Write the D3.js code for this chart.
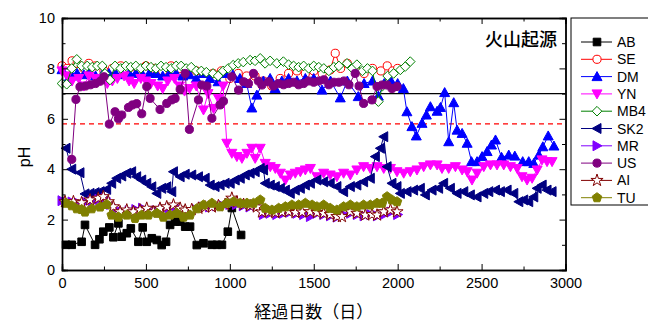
<!DOCTYPE html>
<html>
<head>
<meta charset="utf-8">
<script src="https://cdn.jsdelivr.net/npm/d3@7"></script>
<style>
  body { margin: 0; background: #fff; }
  svg { display: block; font-family: "Liberation Sans", Arial, sans-serif; }
  .jp { font-family: "Noto Sans CJK JP", sans-serif; }
</style>
</head>
<body>
<svg id="chart" width="648" height="323"></svg>
<script>
// series, [day, pH]
const AB = [[24,1.0],[58,1.0],[117,1.12],[137,1.79],[197,1.0],[223,1.22],[246,1.52],[282,1.69],[306,1.3],[336,1.85],[356,1.32],[386,1.46],[410,1.65],[455,1.12],[481,1.69],[505,1.12],[535,1.26],[565,1.19],[594,0.99],[620,1.12],[644,1.79],[674,1.92],[704,1.92],[734,1.72],[763,1.72],[803,0.99],[843,1.06],[893,1.0],[923,1.0],[953,1.0],[988,1.52],[1012,2.46],[1067,1.39]];

const SE = [[0,8.1],[30,8.0],[60,8.3],[90,8.2],[130,8.0],[160,8.2],[200,8.1],[250,7.9],[300,8.0],[350,8.1],[400,8.0],[450,8.0],[500,8.1],[550,8.0],[600,7.9],[650,8.1],[700,8.0],[750,7.9],[800,7.9],[850,7.8],[900,7.8],[950,7.9],[1000,7.6],[1050,7.8],[1100,7.7],[1150,7.7],[1200,7.5],[1250,7.3],[1300,7.6],[1350,7.8],[1400,7.9],[1450,7.8],[1500,7.9],[1550,7.8],[1598,7.94],[1628,8.6],[1660,8.0],[1700,8.2],[1750,7.9],[1800,7.8],[1850,8.0],[1900,7.9],[1938,8.1],[1970,7.9],[2000,8.0]];

const DM = [[0,7.95],[30,7.5],[60,7.7],[90,7.8],[130,7.75],[160,7.8],[200,7.7],[240,7.75],[280,7.8],[320,7.8],[360,7.75],[400,7.8],[440,7.8],[480,7.75],[520,7.8],[560,7.8],[600,7.7],[640,7.8],[680,7.8],[720,7.7],[760,7.75],[800,7.6],[840,7.8],[880,7.6],[930,7.47],[970,7.8],[1018,7.74],[1060,7.6],[1100,7.4],[1131,6.43],[1161,6.94],[1200,7.5],[1240,7.6],[1270,7.2],[1310,7.5],[1350,7.6],[1400,7.5],[1450,7.6],[1500,7.6],[1549,7.14],[1600,7.5],[1658,6.83],[1700,7.5],[1765,6.88],[1800,7.4],[1850,7.5],[1885,6.9],[1920,7.4],[1960,7.5],[2000,7.4],[2034,7.2],[2055,6.28],[2085,5.69],[2111,5.32],[2145,5.82],[2171,6.15],[2195,6.48],[2235,6.3],[2255,6.45],[2280,7.04],[2304,5.09],[2334,6.64],[2354,5.55],[2384,5.42],[2414,5.03],[2440,4.3],[2473,4.3],[2503,4.5],[2533,4.7],[2559,4.96],[2583,5.16],[2619,4.47],[2662,4.56],[2698,4.52],[2745,4.3],[2781,4.3],[2811,4.23],[2841,4.56],[2865,4.89],[2897,5.32],[2931,4.92]];

const YN = [[0,7.9],[30,7.7],[60,7.5],[100,7.6],[130,7.3],[160,7.7],[200,7.6],[230,7.5],[270,7.4],[300,7.5],[330,7.6],[370,7.7],[400,7.5],[430,7.4],[470,7.6],[500,7.5],[530,7.4],[570,7.3],[600,7.2],[630,7.5],[670,7.6],[700,7.3],[730,7.1],[760,7.2],[800,7.3],[843,6.35],[870,7.0],[903,6.41],[932,6.81],[960,7.3],[982,5.03],[1012,4.63],[1042,4.5],[1072,4.43],[1102,4.63],[1131,4.83],[1151,4.43],[1181,4.83],[1211,4.23],[1241,4.1],[1271,4.03],[1301,3.84],[1331,3.57],[1360,3.77],[1390,3.84],[1420,3.9],[1450,3.97],[1480,4.03],[1519,3.7],[1559,3.84],[1598,3.77],[1638,3.7],[1678,3.84],[1718,3.77],[1757,3.97],[1797,4.1],[1837,4.03],[1877,4.1],[1917,4.03],[1957,4.03],[1996,3.9],[2036,3.84],[2075,3.9],[2115,3.97],[2155,4.1],[2195,4.17],[2235,4.17],[2264,4.03],[2304,4.03],[2344,4.1],[2384,3.97],[2414,3.9],[2443,3.57],[2473,3.84],[2513,4.1],[2553,4.17],[2592,4.17],[2632,4.17],[2672,4.1],[2712,4.03],[2741,3.7],[2771,3.57],[2801,3.64],[2831,3.97],[2860,4.37],[2890,4.3],[2920,4.3]];

const MB4 = [[0,7.4],[28,7.37],[58,8.0],[88,8.36],[117,8.1],[150,8.1],[180,8.05],[210,8.1],[240,8.1],[256,7.8],[286,7.54],[316,8.1],[350,8.0],[380,8.1],[410,8.05],[440,8.1],[470,8.0],[500,8.1],[530,8.05],[560,8.0],[590,8.1],[620,8.05],[650,8.0],[680,8.1],[710,8.1],[740,8.0],[770,8.05],[800,7.9],[830,7.9],[860,7.85],[900,7.8],[930,7.7],[960,7.9],[990,8.0],[1020,8.13],[1050,8.2],[1080,8.25],[1121,8.33],[1150,8.3],[1181,8.4],[1210,8.2],[1240,8.3],[1280,8.2],[1319,8.27],[1350,8.15],[1380,8.1],[1410,8.05],[1440,8.1],[1470,8.0],[1500,8.1],[1530,8.05],[1560,8.0],[1590,7.9],[1620,8.05],[1650,8.1],[1698,8.2],[1730,8.0],[1757,8.15],[1790,7.9],[1820,8.0],[1850,7.9],[1885,6.68],[1910,7.3],[1940,7.7],[1976,7.8],[2016,7.94],[2045,8.07],[2075,8.27]];

const SK2 = [[24,4.83],[58,4.0],[107,3.86],[137,3.02],[167,3.04],[197,3.07],[227,3.11],[266,3.2],[296,3.44],[326,3.64],[356,3.73],[386,3.84],[415,3.9],[445,3.7],[475,3.57],[505,3.44],[535,3.3],[565,3.04],[594,3.24],[624,3.3],[654,3.11],[664,3.9],[704,3.7],[734,3.8],[773,3.77],[813,3.7],[853,3.64],[883,3.37],[912,3.31],[942,3.37],[972,3.44],[1002,3.44],[1032,3.57],[1062,3.64],[1092,3.77],[1121,3.84],[1151,3.9],[1181,4.03],[1201,3.97],[1211,3.44],[1241,3.37],[1271,3.31],[1301,3.24],[1331,3.17],[1360,3.04],[1390,3.17],[1420,3.24],[1450,3.37],[1480,3.44],[1519,3.57],[1559,3.5],[1598,3.44],[1638,3.31],[1678,3.11],[1718,3.31],[1757,3.37],[1797,3.5],[1837,3.64],[1867,4.5],[1897,4.83],[1917,5.29],[1937,4.1],[1966,3.44],[1996,3.31],[2016,3.04],[2056,3.11],[2095,3.17],[2135,3.24],[2165,2.98],[2205,3.17],[2244,3.24],[2274,3.44],[2314,3.24],[2354,3.04],[2394,3.11],[2433,2.98],[2473,2.9],[2513,3.04],[2543,3.11],[2583,3.17],[2612,3.11],[2652,3.17],[2692,3.04],[2722,2.71],[2751,2.78],[2781,2.71],[2811,2.9],[2831,3.24],[2861,3.37],[2890,3.17],[2920,3.11]];

const MR = [[0,2.75],[30,2.7],[60,2.7],[100,2.65],[140,2.7],[180,2.75],[220,2.8],[260,2.85],[290,2.6],[320,2.4],[360,2.3],[400,2.35],[440,2.4],[480,2.45],[520,2.35],[560,2.35],[600,2.4],[640,2.45],[680,2.5],[720,2.4],[760,2.3],[800,2.4],[840,2.5],[880,2.5],[920,2.55],[960,2.55],[1000,2.6],[1040,2.6],[1080,2.55],[1120,2.5],[1160,2.55],[1200,2.2],[1240,2.25],[1280,2.2],[1320,2.25],[1360,2.3],[1400,2.25],[1440,2.2],[1480,2.12],[1520,2.25],[1560,2.2],[1600,2.15],[1640,2.1],[1680,2.2],[1720,2.25],[1760,2.2],[1800,2.15],[1840,2.2],[1880,2.15],[1920,2.2],[1960,2.3],[2000,2.2]];

const US = [[58,4.39],[83,6.77],[107,7.27],[140,7.3],[170,7.35],[200,7.4],[230,7.5],[250,7.67],[282,5.79],[316,6.28],[336,6.0],[356,6.15],[396,6.45],[420,6.55],[445,6.6],[475,6.2],[505,7.28],[525,6.81],[584,6.37],[624,6.61],[654,6.75],[674,6.81],[704,7.17],[734,7.8],[759,5.58],[813,6.75],[833,7.34],[863,7.3],[893,6.02],[942,6.55],[962,6.7],[1012,7.67],[1052,7.14],[1082,7.47],[1111,7.4],[1141,7.8],[1170,7.5],[1191,7.34],[1231,7.47],[1260,7.3],[1290,7.4],[1320,7.35],[1350,7.4],[1380,7.45],[1410,7.35],[1440,7.4],[1470,7.5],[1500,7.45],[1530,7.5],[1560,7.55],[1590,7.35],[1620,7.45],[1650,7.45],[1680,7.5],[1710,7.35],[1747,7.8],[1770,7.3],[1797,6.61],[1847,6.75],[1877,7.28],[1907,7.34],[1937,7.34],[1966,7.2],[1996,7.28]];

const AI = [[18,2.71],[68,2.71],[117,2.67],[167,2.78],[216,2.85],[246,2.91],[276,2.71],[306,2.51],[346,2.31],[386,2.38],[425,2.31],[465,2.38],[505,2.45],[544,2.31],[584,2.45],[624,2.51],[664,2.58],[704,2.45],[734,2.38],[773,2.4],[813,2.45],[853,2.5],[893,2.5],[932,2.55],[972,2.6],[1012,2.85],[1042,2.7],[1082,2.6],[1121,2.55],[1161,2.5],[1191,2.3],[1231,2.3],[1271,2.28],[1311,2.3],[1351,2.32],[1391,2.28],[1431,2.3],[1479,2.31],[1519,2.28],[1559,2.25],[1598,2.2],[1638,2.12],[1668,2.12],[1718,2.31],[1757,2.25],[1807,2.18],[1847,2.2],[1877,2.18],[1917,2.31],[1957,2.38],[1996,2.31]];

const TU = [[24,2.65],[58,2.55],[88,2.43],[117,2.4],[137,2.3],[177,2.43],[227,2.5],[266,2.6],[296,2.18],[336,2.1],[386,2.18],[435,2.05],[475,2.18],[515,2.18],[565,2.25],[604,2.1],[644,2.18],[684,2.25],[724,2.1],[763,2.18],[803,2.43],[843,2.58],[893,2.65],[942,2.51],[982,2.65],[1022,2.71],[1062,2.65],[1102,2.65],[1141,2.65],[1181,2.78],[1211,2.45],[1251,2.38],[1291,2.45],[1331,2.51],[1370,2.58],[1410,2.58],[1450,2.65],[1490,2.58],[1519,2.51],[1559,2.58],[1598,2.45],[1638,2.38],[1678,2.51],[1718,2.58],[1757,2.51],[1797,2.58],[1837,2.58],[1877,2.65],[1907,2.65],[1937,2.91],[1966,2.78],[1996,2.71]];

const seriesNames = ["AB","SE","DM","YN","MB4","SK2","MR","US","AI","TU"];
const seriesData = [AB, SE, DM, YN, MB4, SK2, MR, US, AI, TU];
const xTicks = [0, 500, 1000, 1500, 2000, 2500, 3000];
const yTicks = [0, 2, 4, 6, 8, 10];
const refLines = [7, 5.8];

const colors = ["#000000","#ff0000","#0000ff","#ff00ff","#008000","#000080","#8000ff","#800080","#800000","#808000"];
const shapes = ["square","circle","triUp","triDown","diamond","triLeft","triRight","circle","star","pentagon"];
const hollow = [false,true,false,false,true,false,false,false,true,false];

const svg = d3.select("#chart");
const L = 62, R = 565.5, T = 18, B = 270;

const x = d3.scaleLinear().domain([0, 3000]).range([L, R]);
const y = d3.scaleLinear().domain([0, 10]).range([B, T]);

function shapePath(s) {
  if (s == "square") return "M-3.8,-3.8H3.8V3.8H-3.8Z";
  if (s == "circle") return d3.symbol(d3.symbolCircle, 52)();
  if (s == "diamond") return "M0,-4.8L4.8,0L0,4.8L-4.8,0Z";
  if (s == "star") return d3.symbol(d3.symbolStar, 46)();
  if (s == "pentagon") {
    const p = d3.range(5).map(i => {
      const a = -Math.PI / 2 + i * 2 * Math.PI / 5;
      return [5 * Math.cos(a), 5 * Math.sin(a)];
    });
    return "M" + p.join("L") + "Z";
  }
  return "M0,-5L5,4L-5,4Z"; // triangles, rotated below
}
const rot = { triUp: 0, triDown: 180, triLeft: -90, triRight: 90 };

// reference lines
svg.append("line")
  .attr("x1", L).attr("x2", R).attr("y1", y(refLines[0])).attr("y2", y(refLines[0]))
  .attr("stroke", "#000").attr("stroke-width", 1.2);
svg.append("line")
  .attr("x1", L).attr("x2", R).attr("y1", y(refLines[1])).attr("y2", y(refLines[1]))
  .attr("stroke", "#ff0000").attr("stroke-width", 1.2).attr("stroke-dasharray", "5,4");

const plot = svg.append("g");
const line = d3.line().x(d => x(d[0])).y(d => y(d[1]));

seriesData.forEach((data, i) => {
  const g = plot.append("g");
  g.append("path")
    .attr("d", line(data))
    .attr("fill", "none")
    .attr("stroke", colors[i])
    .attr("stroke-width", 1);
  g.selectAll("path.m")
    .data(data)
    .enter().append("path")
    .attr("class", "m")
    .attr("d", shapePath(shapes[i]))
    .attr("transform", d => "translate(" + x(d[0]) + "," + y(d[1]) + ")" + (rot[shapes[i]] ? " rotate(" + rot[shapes[i]] + ")" : ""))
    .attr("fill", hollow[i] ? "#fff" : colors[i])
    .attr("stroke", colors[i])
    .attr("stroke-width", 1);
});

// axes
svg.append("g").attr("transform", "translate(0," + B + ")")
  .call(d3.axisBottom(x).tickValues(xTicks).tickSize(-6).tickPadding(8).tickFormat(d3.format("d")));
svg.append("g").attr("transform", "translate(" + L + ",0)")
  .call(d3.axisLeft(y).tickValues(yTicks).tickSize(-6).tickPadding(7));
svg.append("g").attr("transform", "translate(0," + T + ")")
  .call(d3.axisTop(x).tickValues(xTicks).tickSize(-6).tickFormat(""));
svg.append("g").attr("transform", "translate(" + R + ",0)")
  .call(d3.axisRight(y).tickValues(yTicks).tickSize(-6).tickFormat(""));

const minorX = d3.range(250, 3000, 500);
const minorY = d3.range(1, 10, 2);
svg.append("g").attr("transform", "translate(0," + B + ")")
  .call(d3.axisBottom(x).tickValues(minorX).tickSize(-3.5).tickFormat(""));
svg.append("g").attr("transform", "translate(0," + T + ")")
  .call(d3.axisTop(x).tickValues(minorX).tickSize(-3.5).tickFormat(""));
svg.append("g").attr("transform", "translate(" + L + ",0)")
  .call(d3.axisLeft(y).tickValues(minorY).tickSize(-3.5).tickFormat(""));
svg.append("g").attr("transform", "translate(" + R + ",0)")
  .call(d3.axisRight(y).tickValues(minorY).tickSize(-3.5).tickFormat(""));

svg.selectAll(".domain").attr("stroke", "#000").attr("stroke-width", 1.4);
svg.selectAll(".tick line").attr("stroke", "#000").attr("stroke-width", 1);
svg.selectAll(".tick text").attr("font-size", 14.5).attr("fill", "#000")
  .attr("font-family", "'Liberation Sans', Arial, sans-serif");

// titles
svg.append("text").attr("class", "jp")
  .attr("x", 557).attr("y", 46).attr("text-anchor", "end")
  .attr("font-size", 18).attr("font-weight", 500).attr("fill", "#000").text("火山起源");
svg.append("text").attr("class", "jp")
  .attr("x", (L + R) / 2).attr("y", 318).attr("text-anchor", "middle")
  .attr("font-size", 17).attr("fill", "#000").text("経過日数（日）");
svg.append("text")
  .attr("transform", "translate(30,157) rotate(-90)")
  .attr("text-anchor", "middle").attr("font-size", 16).attr("fill", "#000").text("pH");

// legend
const lg = svg.append("g");
lg.append("rect").attr("x", 571).attr("y", 18).attr("width", 90).attr("height", 187)
  .attr("fill", "#fff").attr("stroke", "#000").attr("stroke-width", 1);
seriesNames.forEach((name, i) => {
  const ly = 42 + i * 17.3;
  lg.append("line").attr("x1", 581).attr("x2", 612).attr("y1", ly).attr("y2", ly)
    .attr("stroke", colors[i]).attr("stroke-width", 1);
  lg.append("path")
    .attr("d", shapePath(shapes[i]))
    .attr("transform", "translate(597," + ly + ")" + (rot[shapes[i]] ? " rotate(" + rot[shapes[i]] + ")" : ""))
    .attr("fill", hollow[i] ? "#fff" : colors[i])
    .attr("stroke", colors[i]).attr("stroke-width", 1);
  lg.append("text").attr("x", 617).attr("y", ly + 5).attr("font-size", 14).attr("fill", "#000").text(name);
});
</script>
</body>
</html>
